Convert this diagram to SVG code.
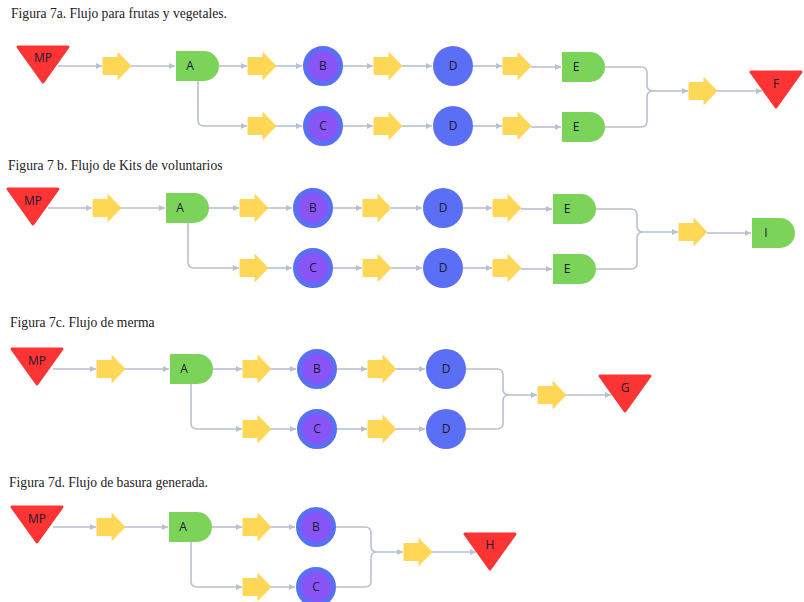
<svg xmlns="http://www.w3.org/2000/svg" xmlns:xlink="http://www.w3.org/1999/xlink" width="804" height="602" viewBox="0 0 804 602">
  <style>
    .title { font-family: "Liberation Serif", "Times New Roman", serif; font-size: 13.6px; fill: #222; }
    .lbl { font-family: "Open Sans", "Noto Sans", sans-serif; font-size: 12px; fill: #1a1a2e; text-anchor: middle; }
    .conn { fill: none; stroke: #b9c1cc; stroke-width: 1.6; }
    .tri { fill: #fd3434; stroke: #fd3434; stroke-width: 3; stroke-linejoin: round; }
    .delay { fill: #7cd35a; }
    .move { fill: #ffd757; stroke: #ffd757; stroke-width: 1; stroke-linejoin: round; }
    .op { fill: #8a55f6; stroke: #5a6ff5; stroke-width: 5; }
    .insp { fill: #5a6ff5; }
  </style>
  <defs>
    <marker id="tip" viewBox="0 0 6 6" refX="6" refY="3" markerWidth="6" markerHeight="6" markerUnits="userSpaceOnUse" orient="auto">
      <path d="M0,0 L6,3 L0,6 Z" fill="#b9c1cc"/>
    </marker>
    <!-- transport arrow, centred on origin -->
    <path id="mv" class="move" d="M-14,-8.5 H1 V-13.5 L14,0 L1,13.5 V8.5 H-14 Z"/>
    <!-- storage triangle, origin at top centre -->
    <path id="st" class="tri" d="M-25,1 H25 L0,36 Z"/>
    <!-- delay shape, origin at top-left -->
    <path id="dl" class="delay" d="M0,0 H28 A15,15 0 0 1 28,30 H0 Z"/>
  </defs>

  <!-- Titles -->
  <text class="title" x="11" y="18">Figura 7a. Flujo para frutas y vegetales.</text>
  <text class="title" x="8" y="170">Figura 7 b. Flujo de Kits de voluntarios</text>
  <text class="title" x="10" y="327">Figura 7c. Flujo de merma</text>
  <text class="title" x="9" y="487">Figura 7d. Flujo de basura generada.</text>

  <!-- Connectors -->
  <g id="connectors">
    <!-- 7a -->
    <path class="conn" marker-end="url(#tip)" d="M58,66 H102"/>
    <path class="conn" marker-end="url(#tip)" d="M131,66 H175"/>
    <path class="conn" marker-end="url(#tip)" d="M219,66 H247"/>
    <path class="conn" marker-end="url(#tip)" d="M276,66 H302"/>
    <path class="conn" marker-end="url(#tip)" d="M343,66 H373"/>
    <path class="conn" marker-end="url(#tip)" d="M402,66 H432"/>
    <path class="conn" marker-end="url(#tip)" d="M473,66 H502"/>
    <path class="conn" marker-end="url(#tip)" d="M531,67 H561"/>
    <path class="conn" marker-end="url(#tip)" d="M198,81 V120 Q198,126 204,126 H247"/>
    <path class="conn" marker-end="url(#tip)" d="M276,126 H302"/>
    <path class="conn" marker-end="url(#tip)" d="M343,126 H373"/>
    <path class="conn" marker-end="url(#tip)" d="M402,126 H432"/>
    <path class="conn" marker-end="url(#tip)" d="M473,126 H502"/>
    <path class="conn" marker-end="url(#tip)" d="M531,127 H561"/>
    <path class="conn" marker-end="url(#tip)" d="M605,67 H641 Q647,67 647,73 V85 Q647,91 653,91 H688"/>
    <path class="conn" d="M605,127 H641 Q647,127 647,121 V97 Q647,91 653,91"/>
    <path class="conn" marker-end="url(#tip)" d="M717,91 H762"/>
    <!-- 7b -->
    <path class="conn" marker-end="url(#tip)" d="M48,208 H92"/>
    <path class="conn" marker-end="url(#tip)" d="M121,208 H165"/>
    <path class="conn" marker-end="url(#tip)" d="M209,208 H239"/>
    <path class="conn" marker-end="url(#tip)" d="M268,208 H292"/>
    <path class="conn" marker-end="url(#tip)" d="M333,208 H362"/>
    <path class="conn" marker-end="url(#tip)" d="M391,208 H422"/>
    <path class="conn" marker-end="url(#tip)" d="M463,208 H492"/>
    <path class="conn" marker-end="url(#tip)" d="M521,209 H552"/>
    <path class="conn" marker-end="url(#tip)" d="M188,223 V262 Q188,268 194,268 H239"/>
    <path class="conn" marker-end="url(#tip)" d="M268,268 H292"/>
    <path class="conn" marker-end="url(#tip)" d="M333,268 H362"/>
    <path class="conn" marker-end="url(#tip)" d="M391,268 H422"/>
    <path class="conn" marker-end="url(#tip)" d="M463,268 H492"/>
    <path class="conn" marker-end="url(#tip)" d="M521,269 H552"/>
    <path class="conn" marker-end="url(#tip)" d="M596,209 H631 Q637,209 637,215 V226 Q637,232 643,232 H678"/>
    <path class="conn" d="M596,269 H631 Q637,269 637,263 V238 Q637,232 643,232"/>
    <path class="conn" marker-end="url(#tip)" d="M707,233 H751"/>
    <!-- 7c -->
    <path class="conn" marker-end="url(#tip)" d="M53,369 H96"/>
    <path class="conn" marker-end="url(#tip)" d="M125,369 H169"/>
    <path class="conn" marker-end="url(#tip)" d="M213,369 H242"/>
    <path class="conn" marker-end="url(#tip)" d="M271,369 H296"/>
    <path class="conn" marker-end="url(#tip)" d="M337,369 H367"/>
    <path class="conn" marker-end="url(#tip)" d="M396,369 H425"/>
    <path class="conn" marker-end="url(#tip)" d="M191,384 V423 Q191,429 197,429 H242"/>
    <path class="conn" marker-end="url(#tip)" d="M271,429 H296"/>
    <path class="conn" marker-end="url(#tip)" d="M337,429 H367"/>
    <path class="conn" marker-end="url(#tip)" d="M396,429 H425"/>
    <path class="conn" marker-end="url(#tip)" d="M466,369 H497 Q503,369 503,375 V389 Q503,395 509,395 H537"/>
    <path class="conn" d="M466,429 H497 Q503,429 503,423 V401 Q503,395 509,395"/>
    <path class="conn" marker-end="url(#tip)" d="M566,395 H611"/>
    <!-- 7d -->
    <path class="conn" marker-end="url(#tip)" d="M53,527 H96"/>
    <path class="conn" marker-end="url(#tip)" d="M125,527 H168"/>
    <path class="conn" marker-end="url(#tip)" d="M212,527 H242"/>
    <path class="conn" marker-end="url(#tip)" d="M271,527 H295"/>
    <path class="conn" marker-end="url(#tip)" d="M191,542 V581 Q191,587 197,587 H242"/>
    <path class="conn" marker-end="url(#tip)" d="M271,587 H295"/>
    <path class="conn" marker-end="url(#tip)" d="M336,527 H365 Q371,527 371,533 V546 Q371,552 377,552 H403"/>
    <path class="conn" d="M336,587 H365 Q371,587 371,581 V558 Q371,552 377,552"/>
    <path class="conn" marker-end="url(#tip)" d="M432,552 H476"/>
  </g>

  <!-- Figura 7a -->
  <g id="a-mp"><use xlink:href="#st" x="43" y="46"/><text class="lbl" x="43" y="62">MP</text></g>
  <g id="a-t1"><use xlink:href="#mv" x="117" y="66"/></g>
  <g id="a-A"><use xlink:href="#dl" x="176" y="51"/><text class="lbl" x="190" y="70">A</text></g>
  <g id="a-t2"><use xlink:href="#mv" x="262" y="66"/></g>
  <g id="a-B"><circle class="op" cx="323" cy="66" r="17.5"/><text class="lbl" x="323" y="70">B</text></g>
  <g id="a-t3"><use xlink:href="#mv" x="388" y="66"/></g>
  <g id="a-D1"><circle class="insp" cx="453" cy="66" r="20"/><text class="lbl" x="453" y="70">D</text></g>
  <g id="a-t4"><use xlink:href="#mv" x="517" y="66"/></g>
  <g id="a-E1"><use xlink:href="#dl" x="562" y="52"/><text class="lbl" x="576" y="71">E</text></g>
  <g id="a-t5"><use xlink:href="#mv" x="262" y="126"/></g>
  <g id="a-C"><circle class="op" cx="323" cy="126" r="17.5"/><text class="lbl" x="323" y="130">C</text></g>
  <g id="a-t6"><use xlink:href="#mv" x="388" y="126"/></g>
  <g id="a-D2"><circle class="insp" cx="453" cy="126" r="20"/><text class="lbl" x="453" y="130">D</text></g>
  <g id="a-t7"><use xlink:href="#mv" x="517" y="126"/></g>
  <g id="a-E2"><use xlink:href="#dl" x="562" y="112"/><text class="lbl" x="576" y="131">E</text></g>
  <g id="a-t8"><use xlink:href="#mv" x="703" y="91"/></g>
  <g id="a-F"><use xlink:href="#st" x="776" y="71"/><text class="lbl" x="776" y="88">F</text></g>

  <!-- Figura 7b -->
  <g id="b-mp"><use xlink:href="#st" x="33" y="188"/><text class="lbl" x="33" y="205">MP</text></g>
  <g id="b-t1"><use xlink:href="#mv" x="107" y="208"/></g>
  <g id="b-A"><use xlink:href="#dl" x="166" y="193"/><text class="lbl" x="180" y="212">A</text></g>
  <g id="b-t2"><use xlink:href="#mv" x="254" y="208"/></g>
  <g id="b-B"><circle class="op" cx="313" cy="208" r="17.5"/><text class="lbl" x="313" y="212">B</text></g>
  <g id="b-t3"><use xlink:href="#mv" x="377" y="208"/></g>
  <g id="b-D1"><circle class="insp" cx="443" cy="208" r="20"/><text class="lbl" x="443" y="212">D</text></g>
  <g id="b-t4"><use xlink:href="#mv" x="507" y="208"/></g>
  <g id="b-E1"><use xlink:href="#dl" x="553" y="194"/><text class="lbl" x="567" y="213">E</text></g>
  <g id="b-t5"><use xlink:href="#mv" x="254" y="268"/></g>
  <g id="b-C"><circle class="op" cx="313" cy="268" r="17.5"/><text class="lbl" x="313" y="272">C</text></g>
  <g id="b-t6"><use xlink:href="#mv" x="377" y="268"/></g>
  <g id="b-D2"><circle class="insp" cx="443" cy="268" r="20"/><text class="lbl" x="443" y="272">D</text></g>
  <g id="b-t7"><use xlink:href="#mv" x="507" y="268"/></g>
  <g id="b-E2"><use xlink:href="#dl" x="553" y="254"/><text class="lbl" x="567" y="273">E</text></g>
  <g id="b-t8"><use xlink:href="#mv" x="693" y="232"/></g>
  <g id="b-I"><use xlink:href="#dl" x="752" y="218"/><text class="lbl" x="766" y="237">I</text></g>

  <!-- Figura 7c -->
  <g id="c-mp"><use xlink:href="#st" x="37" y="348"/><text class="lbl" x="37" y="365">MP</text></g>
  <g id="c-t1"><use xlink:href="#mv" x="111" y="369"/></g>
  <g id="c-A"><use xlink:href="#dl" x="170" y="354"/><text class="lbl" x="184" y="373">A</text></g>
  <g id="c-t2"><use xlink:href="#mv" x="257" y="369"/></g>
  <g id="c-B"><circle class="op" cx="317" cy="369" r="17.5"/><text class="lbl" x="317" y="373">B</text></g>
  <g id="c-t3"><use xlink:href="#mv" x="382" y="369"/></g>
  <g id="c-D1"><circle class="insp" cx="446" cy="369" r="20"/><text class="lbl" x="446" y="373">D</text></g>
  <g id="c-t4"><use xlink:href="#mv" x="257" y="429"/></g>
  <g id="c-C"><circle class="op" cx="317" cy="429" r="17.5"/><text class="lbl" x="317" y="433">C</text></g>
  <g id="c-t5"><use xlink:href="#mv" x="382" y="429"/></g>
  <g id="c-D2"><circle class="insp" cx="446" cy="429" r="20"/><text class="lbl" x="446" y="433">D</text></g>
  <g id="c-t6"><use xlink:href="#mv" x="552" y="395"/></g>
  <g id="c-G"><use xlink:href="#st" x="625" y="375"/><text class="lbl" x="625" y="392">G</text></g>

  <!-- Figura 7d -->
  <g id="d-mp"><use xlink:href="#st" x="37" y="506"/><text class="lbl" x="37" y="523">MP</text></g>
  <g id="d-t1"><use xlink:href="#mv" x="111" y="527"/></g>
  <g id="d-A"><use xlink:href="#dl" x="169" y="512"/><text class="lbl" x="183" y="531">A</text></g>
  <g id="d-t2"><use xlink:href="#mv" x="257" y="527"/></g>
  <g id="d-B"><circle class="op" cx="316" cy="527" r="17.5"/><text class="lbl" x="316" y="531">B</text></g>
  <g id="d-t3"><use xlink:href="#mv" x="257" y="587"/></g>
  <g id="d-C"><circle class="op" cx="316" cy="587" r="17.5"/><text class="lbl" x="316" y="591">C</text></g>
  <g id="d-t4"><use xlink:href="#mv" x="418" y="552"/></g>
  <g id="d-H"><use xlink:href="#st" x="490" y="533"/><text class="lbl" x="490" y="549">H</text></g>
</svg>
